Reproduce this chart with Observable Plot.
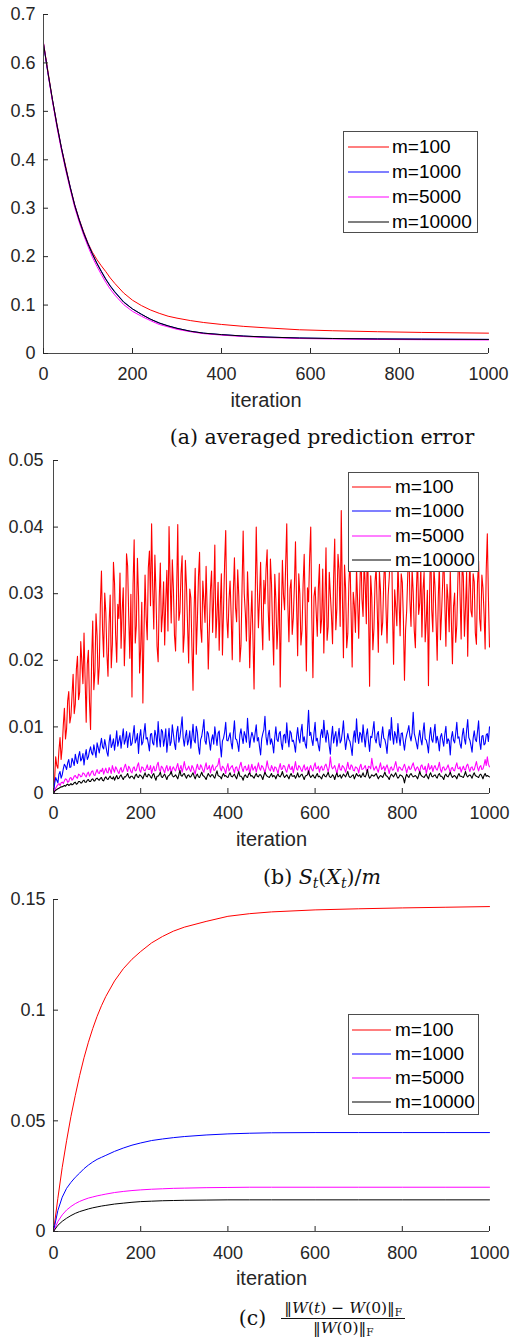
<!DOCTYPE html>
<html>
<head>
<meta charset="utf-8">
<script src="https://cdn.jsdelivr.net/npm/d3@7"></script>
<script src="https://cdn.jsdelivr.net/npm/@observablehq/plot@0.6"></script>
<style>
  body { margin: 0; background: #fff; }
  #root { position: relative; width: 512px; height: 1338px; overflow: hidden; font-family: "Liberation Sans", Arial, Helvetica, sans-serif; }
  .panel { position: absolute; left: 0; }
  .legend { position: absolute; border: 1px solid #4d4d4d; background: #fff; box-sizing: border-box; }
  .lrow { position: absolute; left: 0; right: 0; height: 24px; font-size: 19px; color: #000; }
  .cap { position: absolute; left: 132px; width: 380px; text-align: center; font-family: "DejaVu Serif", "Liberation Serif", serif; font-size: 20.5px; line-height: 24px; color: #111; white-space: nowrap; }
  .cap sub { font-size: 0.68em; vertical-align: -0.32em; line-height: 0; }
  .capc { display: flex; justify-content: center; align-items: center; height: 36px; }
  .frac { display: inline-flex; flex-direction: column; align-items: center; font-size: 15.5px; margin-left: 15px; }
  .num { line-height: 15px; padding: 0 3px 2px; border-bottom: 1px solid #111; }
  .den { line-height: 15px; padding-top: 2px; }
</style>
</head>
<body>
<div id="root"></div>
<script>
// ---------- shared ----------
const seriesNames = ["m=100", "m=1000", "m=5000", "m=10000"];
const seriesColors = ["#ff0000", "#0000ff", "#ff00ff", "#000000"];
const xTicks = [0, 200, 400, 600, 800, 1000];

// ---------- (a) averaged prediction error ----------
const iterA = [0,10,20,30,40,50,60,70,80,90,100,110,120,130,140,150,160,180,200,220,240,260,280,300,330,360,400,450,500,575,650,750,850,1000];
const errA_m100   = [0.640,0.583,0.524,0.475,0.426,0.386,0.344,0.308,0.278,0.252,0.228,0.209,0.194,0.181,0.169,0.156,0.145,0.125,0.110,0.099,0.090,0.083,0.077,0.073,0.068,0.064,0.060,0.056,0.053,0.049,0.047,0.045,0.0435,0.042];
const errA_m1000  = [0.638,0.579,0.524,0.473,0.426,0.383,0.344,0.307,0.277,0.250,0.227,0.206,0.187,0.170,0.154,0.140,0.128,0.107,0.092,0.081,0.071,0.063,0.057,0.052,0.046,0.042,0.039,0.036,0.034,0.032,0.031,0.0302,0.0298,0.0292];
const errA_m5000  = [0.642,0.578,0.521,0.468,0.421,0.378,0.339,0.302,0.272,0.245,0.221,0.199,0.180,0.163,0.147,0.133,0.121,0.101,0.087,0.077,0.068,0.060,0.055,0.050,0.045,0.041,0.038,0.035,0.033,0.031,0.030,0.029,0.0285,0.028];
const errA_m10000 = [0.640,0.580,0.525,0.472,0.425,0.382,0.343,0.306,0.276,0.249,0.226,0.205,0.186,0.169,0.153,0.139,0.127,0.106,0.092,0.081,0.071,0.063,0.057,0.052,0.046,0.042,0.039,0.036,0.034,0.032,0.031,0.030,0.0295,0.029];
const yTicksA = [0, 0.1, 0.2, 0.3, 0.4, 0.5, 0.6, 0.7];

// ---------- (b) S_t(X_t)/m  (values in units of 1e-3, every 2.5 iterations; one row = 50 iterations) ----------
const iterB = d3.range(0, 1000.1, 2.5);
const unitB = 1e-3;
const sB_m100 = [
  0,2.1,5.5,4.2,3.8,6.5,8.4,5.1,6.9,10.3,12.8,8.2,9.7,13.9,15.3,10.6,11.6,14.8,17.9,12.0,
  13.4,18.7,20.6,14.1,15.2,22.8,19.8,16.5,24.1,17.2,10.7,19.4,21.5,13.8,9.6,20.2,25.9,15.6,18.3,27.0,
  23.7,16.4,19.1,28.3,33.4,24.6,20.5,30.1,27.2,21.0,17.6,25.5,29.8,18.9,22.4,34.7,31.6,23.8,19.7,28.4,
  26.3,33.1,21.8,27.4,30.9,19.2,24.6,36.0,34.2,26.7,20.3,29.9,14.5,31.4,38.1,22.6,25.2,35.3,29.7,18.1,
  21.9,28.7,13.6,24.0,32.8,26.5,23.1,33.9,36.4,28.2,40.5,31.0,24.7,35.8,30.2,22.1,19.8,29.3,34.6,24.3,
  26.9,31.8,22.3,28.9,33.5,24.4,40.1,32.2,25.6,35.1,30.8,23.7,21.4,30.5,40.4,26.0,27.3,33.0,35.7,21.2,
  23.9,35.0,31.2,25.3,19.6,30.7,29.4,22.0,15.5,27.6,33.8,20.9,26.1,32.5,36.2,24.8,22.7,31.9,28.9,25.7,
  34.1,27.2,18.7,24.9,30.6,33.4,24.2,29.6,37.3,23.4,26.8,31.7,21.5,28.1,33.0,20.8,27.7,34.6,39.5,26.3,
  23.4,29.0,31.9,26.7,20.1,30.3,35.4,27.9,25.8,33.6,29.6,19.8,22.2,31.1,39.4,30.0,27.1,22.9,33.3,28.2,
  18.9,25.6,30.4,23.2,15.7,28.8,40.0,31.3,24.9,29.4,34.7,26.1,21.6,32.0,28.5,33.7,36.6,27.5,23.0,35.2,
  31.5,24.7,19.3,32.9,29.2,21.7,25.4,33.1,16.0,26.3,35.0,29.8,27.6,34.4,40.5,28.3,22.8,30.7,32.1,23.9,
  26.4,31.2,37.8,28.6,20.7,33.0,30.0,22.3,24.5,31.4,35.9,27.0,18.4,30.9,28.8,35.5,40.0,26.4,17.4,29.6,
  31.0,27.3,23.6,30.8,34.4,24.1,26.2,33.7,21.1,28.5,36.9,23.0,25.0,33.2,29.9,26.8,22.5,32.4,38.2,24.6,
  27.8,35.9,33.6,25.1,42.5,29.9,20.4,34.3,30.7,21.9,24.0,31.6,35.2,27.4,19.0,30.2,28.3,24.2,33.9,29.0,
  23.3,30.4,37.1,29.2,26.6,34.9,31.3,25.5,39.0,27.8,16.1,32.7,29.5,21.6,24.8,31.8,34.0,27.7,21.2,33.4,
  30.5,23.8,25.7,31.9,36.0,28.0,22.6,29.7,32.4,36.3,40.5,27.5,19.4,30.6,28.0,25.2,34.8,29.1,23.7,33.0,
  31.7,26.2,17.0,24.5,27.4,32.8,37.5,29.0,25.1,33.7,30.3,24.4,21.9,30.8,35.6,26.9,28.6,34.1,23.5,30.6,
  33.2,22.8,26.0,30.5,16.2,29.3,38.6,27.6,24.3,33.9,31.1,25.8,20.0,29.4,34.5,23.1,27.0,31.5,36.8,28.7,
  22.1,31.4,29.1,24.3,33.7,26.0,19.5,28.1,30.1,22.7,25.3,32.2,37.0,29.5,23.2,34.8,32.6,23.6,27.9,33.2,
  20.6,29.7,35.3,27.4,26.5,33.0,31.8,24.1,22.4,31.6,34.9,26.2,24.4,32.8,30.9,27.0,21.7,33.6,39.0,29.5,
  22.0];
const sB_m1000 = [
  0,1.4,2.4,2.0,1.6,2.9,3.3,2.3,2.8,3.7,4.4,4.1,3.6,4.6,5.1,3.9,4.0,5.3,4.8,4.2,
  5.9,5.0,4.5,5.6,6.3,4.9,5.2,6.0,4.3,5.7,6.6,5.1,5.5,6.4,7.0,6.1,5.8,7.3,6.4,5.4,
  7.6,6.9,6.1,7.3,8.3,7.0,6.7,8.1,7.2,6.2,5.6,7.7,8.8,6.9,7.4,8.2,6.5,7.8,9.4,7.1,
  7.9,8.7,6.8,8.3,9.7,7.4,8.0,9.3,6.9,8.4,9.1,7.2,7.5,8.8,10.2,7.6,8.1,9.0,6.0,8.5,
  9.6,7.3,7.7,9.1,10.5,8.2,8.4,7.5,6.4,8.9,9.0,7.6,7.3,9.5,8.7,7.0,10.8,8.4,7.0,9.6,
  9.3,7.1,8.2,9.7,6.2,8.0,9.8,7.2,7.8,10.3,8.9,7.5,6.6,9.2,10.1,7.7,8.5,9.9,11.5,8.3,
  7.1,8.6,9.5,7.3,8.0,9.4,6.8,8.5,10.4,8.0,7.6,10.1,9.2,7.0,5.9,8.1,8.6,9.7,11.1,7.9,
  7.4,9.3,9.0,7.8,6.5,8.1,8.8,7.4,10.0,8.6,7.2,9.1,9.4,7.2,5.5,7.9,8.3,9.2,10.7,8.0,
  7.9,8.5,9.1,7.6,6.7,9.0,10.9,8.2,8.1,7.4,6.3,8.8,9.7,8.4,7.5,9.3,8.7,7.7,11.3,8.9,
  6.9,8.3,9.2,8.6,7.7,9.1,10.3,7.9,8.4,7.0,5.8,8.2,9.0,9.6,11.6,8.5,7.3,8.8,9.5,7.4,
  8.2,7.4,6.1,8.4,10.0,8.1,7.8,9.0,9.3,7.5,6.6,8.7,8.9,7.6,10.6,8.3,7.0,9.4,9.1,7.8,
  8.0,7.3,6.2,8.5,9.9,8.2,7.6,9.3,10.4,7.8,8.5,7.4,6.8,9.6,12.5,8.7,9.2,8.0,7.2,9.1,
  10.7,7.9,8.3,7.2,6.4,8.7,9.6,8.4,11.0,8.9,7.7,9.5,8.8,7.1,5.9,8.5,10.1,7.6,8.6,9.3,
  7.1,8.4,9.8,7.6,8.0,9.2,10.9,8.3,6.6,7.9,9.0,8.1,7.8,6.9,5.7,8.3,9.4,7.7,11.2,8.6,
  7.5,9.2,8.9,7.7,10.3,8.5,7.0,8.8,9.7,7.8,6.3,8.6,8.4,9.5,10.8,8.2,7.6,8.9,9.3,7.4,
  6.9,8.6,10.0,8.3,8.1,7.3,6.0,8.4,9.6,8.0,11.4,8.8,7.4,9.3,8.7,7.6,10.5,8.5,7.2,9.0,
  9.1,7.7,6.5,8.0,8.8,9.4,10.2,8.6,7.9,9.1,12.2,9.0,8.3,7.5,6.7,8.4,9.5,8.1,7.3,9.2,
  10.6,8.2,8.0,7.3,6.1,8.6,9.9,8.1,7.7,9.2,10.4,7.6,8.6,7.8,6.4,8.5,9.0,8.0,7.1,8.9,
  10.1,7.5,8.2,7.9,5.8,8.4,9.3,8.0,7.6,9.0,10.7,8.3,8.5,7.4,6.8,8.7,9.8,8.2,7.4,9.5,
  11.1,8.4,8.0,7.2,6.2,8.3,9.4,8.1,7.8,9.3,10.9,7.7,6.6,8.6,8.7,7.3,7.5,8.8,9.0,7.8,
  10.0];
const sB_m5000 = [
  0,0.5,0.8,1.1,1.3,1.5,1.2,1.6,1.7,1.5,1.9,2.2,2.1,1.7,1.8,2.3,2.4,2.0,2.2,2.6,
  2.7,2.4,2.3,2.9,2.8,2.5,2.6,3.1,3.0,2.7,2.5,3.0,3.2,2.6,2.9,3.3,3.4,2.8,2.7,3.2,
  3.6,3.1,3.0,3.5,3.3,3.8,2.9,3.4,3.8,3.2,3.1,3.9,3.5,3.0,4.2,3.6,3.2,4.0,3.7,3.3,
  3.0,3.6,3.9,3.2,3.4,4.0,4.4,3.7,3.3,4.1,3.8,3.3,3.1,3.8,4.0,3.4,3.5,4.2,4.6,3.5,
  3.2,4.0,3.9,3.5,3.4,3.8,4.3,3.6,3.6,4.2,3.0,3.7,4.1,3.4,3.5,4.3,4.7,3.6,3.3,4.1,
  3.9,3.5,3.1,3.8,4.2,3.4,3.6,4.1,3.0,3.7,4.0,3.6,3.4,4.0,4.5,3.5,3.7,4.2,3.2,3.9,
  4.8,3.9,3.5,3.7,4.1,3.6,3.3,4.2,3.9,3.4,2.9,3.8,4.4,3.7,3.6,4.3,4.0,3.5,3.2,4.0,
  4.6,3.6,3.8,4.2,3.1,3.9,4.3,3.5,3.5,4.0,4.1,4.4,5.3,3.8,3.4,4.1,3.9,3.6,3.0,3.9,
  4.5,3.4,3.7,4.0,4.2,3.6,3.1,3.9,4.0,3.4,3.5,4.2,4.7,3.8,3.3,4.0,4.1,3.5,3.6,4.3,
  2.9,3.7,4.4,3.5,3.8,4.1,3.2,3.9,4.6,3.8,3.5,4.2,4.0,3.6,3.1,3.9,4.9,4.0,3.6,3.4,
  4.2,3.8,3.3,4.0,3.9,3.5,3.0,3.9,4.5,3.6,3.7,4.2,4.1,3.5,3.2,3.9,4.4,3.7,3.6,4.1,
  3.1,3.9,4.8,3.7,3.5,4.2,4.0,3.6,3.3,3.9,4.3,3.5,3.7,4.0,2.9,3.8,4.2,3.6,3.4,4.1,
  4.6,3.7,3.8,4.1,3.2,3.9,4.1,3.5,3.6,4.2,4.4,3.8,3.3,4.0,5.5,4.1,3.7,3.9,4.2,3.6,
  3.0,3.8,4.5,3.6,3.5,4.2,4.0,3.7,3.2,3.9,4.7,3.8,3.6,4.3,4.1,3.5,3.4,4.0,3.9,3.7,
  3.1,4.0,4.4,3.6,3.7,3.9,4.2,3.5,3.3,4.1,4.0,3.7,5.3,4.2,3.5,3.8,4.1,3.6,3.2,4.0,
  4.6,3.6,3.8,4.1,3.4,3.9,4.3,3.7,3.0,3.8,4.0,3.5,3.6,4.2,4.8,3.9,3.3,4.0,3.9,3.6,
  3.5,4.0,4.4,3.8,3.1,3.7,4.1,3.6,3.7,4.2,4.6,3.9,3.4,3.8,4.0,3.6,3.2,4.1,4.3,3.7,
  3.6,4.1,3.0,3.7,4.5,3.6,3.8,4.2,3.3,3.9,4.2,3.7,3.5,4.0,4.7,3.6,3.2,3.9,4.0,3.5,
  3.6,3.9,4.3,3.7,3.1,3.8,3.9,3.5,3.4,4.1,4.6,3.8,3.7,4.0,3.2,3.7,4.1,3.6,3.5,4.2,
  4.4,3.8,3.3,3.9,4.0,3.5,3.6,4.2,4.8,3.9,3.4,4.0,4.2,3.6,3.7,4.3,5.1,4.2,5.5,4.4,
  4.0];
const sB_m10000 = [
  0,0.3,0.5,0.6,0.7,0.8,0.9,1.0,1.0,1.1,1.2,1.1,1.3,1.4,1.2,1.3,1.5,1.3,1.4,1.6,
  1.7,1.4,1.5,1.8,1.8,1.6,1.6,1.9,2.0,1.7,1.7,2.0,2.1,1.8,1.8,2.1,2.2,1.9,1.9,2.2,
  2.3,2.1,2.0,2.3,2.4,2.0,1.9,2.3,2.5,2.2,2.1,2.4,2.6,2.3,2.2,2.5,2.0,2.4,2.7,2.2,
  2.3,2.6,2.8,2.4,2.1,2.5,2.5,2.7,3.0,2.5,2.3,2.6,2.6,2.4,2.2,2.7,2.9,2.5,2.4,2.8,
  2.7,2.5,2.2,2.7,3.1,2.6,2.5,2.9,2.8,2.5,2.3,2.8,3.0,2.4,2.0,2.6,2.6,2.8,3.2,2.5,
  2.4,2.7,2.9,2.5,2.1,2.6,2.7,2.9,3.3,2.7,2.5,2.6,2.8,2.5,2.2,2.8,3.5,2.7,2.6,2.9,
  3.0,2.6,2.3,2.7,2.8,2.5,2.5,2.8,3.1,2.6,2.2,2.7,2.9,2.5,2.4,2.8,3.2,2.7,2.6,2.4,
  2.1,2.6,3.0,2.7,2.5,2.8,2.8,2.5,2.3,2.9,3.4,2.7,2.6,2.5,2.2,2.7,3.0,2.6,2.7,2.5,
  2.4,2.8,3.1,2.6,2.5,2.7,2.9,2.5,2.2,2.8,3.3,2.6,2.6,2.4,2.0,2.6,2.8,2.5,2.4,2.9,
  3.1,2.6,2.7,2.5,2.3,2.7,3.0,2.6,2.5,2.8,2.8,2.5,2.1,2.7,3.2,2.8,2.6,2.5,2.4,2.7,
  3.0,2.5,2.7,2.6,2.2,2.7,2.9,2.6,2.5,2.8,3.3,2.7,2.4,2.6,2.8,2.5,2.2,2.7,3.0,2.6,
  2.6,2.7,2.3,2.6,3.1,2.5,2.5,2.8,2.9,2.5,2.1,2.6,2.7,2.8,3.4,2.7,2.4,2.6,2.8,2.5,
  2.3,2.7,3.0,2.5,2.6,2.4,2.2,2.7,2.9,2.6,2.5,2.8,3.2,2.6,2.4,2.5,2.8,2.6,2.1,2.7,
  3.1,2.5,2.6,2.8,2.3,2.6,2.9,2.7,2.5,2.9,3.3,2.6,2.4,2.5,2.7,2.8,2.2,2.6,3.0,2.7,
  2.6,2.8,2.4,2.7,3.1,2.6,2.5,2.9,3.6,2.7,2.3,2.5,2.8,2.7,2.6,2.8,3.0,2.6,2.2,2.5,
  2.7,2.6,2.4,2.8,3.2,2.7,2.6,2.4,2.1,2.6,2.9,2.7,2.5,2.8,3.1,2.6,2.3,2.5,2.8,2.7,
  2.6,2.3,1.6,2.4,2.9,2.6,2.4,2.8,3.0,2.7,2.5,2.6,2.7,2.5,2.2,2.7,3.3,2.8,2.6,2.5,
  2.4,2.7,2.9,2.5,2.2,2.8,3.1,2.6,2.5,2.7,2.8,2.5,2.3,2.8,3.0,2.6,2.6,2.4,2.1,2.7,
  2.9,2.6,2.5,2.8,3.2,2.7,2.4,2.6,2.7,2.5,2.2,2.7,3.0,2.6,2.6,2.5,2.4,2.8,3.3,2.7,
  2.5,2.7,2.8,2.6,2.3,2.8,3.1,2.7,2.6,2.5,2.4,2.8,2.9,2.6,2.2,2.7,3.0,2.6,2.7,2.6,
  2.5];
const yTicksB = [0, 0.01, 0.02, 0.03, 0.04, 0.05];

// ---------- (c) ||W(t)-W(0)||_F / ||W(0)||_F ----------
const iterC = [0,10,20,30,40,50,60,70,80,90,100,110,120,140,160,180,200,225,250,275,300,350,400,450,500,600,700,800,900,1000];
const wC_m100   = [0,0.0150,0.0290,0.0410,0.0520,0.0615,0.0705,0.0785,0.0855,0.0917,0.0972,0.1020,0.1062,0.1132,0.1187,0.1230,0.1265,0.1304,0.1333,0.1357,0.1375,0.1401,0.1424,0.1436,0.1444,0.1453,0.1458,0.1462,0.1465,0.1468];
const wC_m1000  = [0,0.0095,0.0155,0.0195,0.0222,0.0245,0.0264,0.0284,0.0300,0.0314,0.0326,0.0335,0.0344,0.0362,0.0377,0.0390,0.0400,0.0411,0.0418,0.0424,0.0429,0.0436,0.0441,0.0444,0.0446,0.0447,0.0447,0.0447,0.0447,0.0447];
const wC_m5000  = [0,0.0045,0.0075,0.0097,0.0113,0.0126,0.0136,0.0144,0.0151,0.0156,0.0161,0.0165,0.0169,0.0176,0.0181,0.0185,0.0188,0.0191,0.0193,0.0195,0.0196,0.0198,0.0199,0.0200,0.0200,0.0200,0.0200,0.0200,0.0200,0.0200];
const wC_m10000 = [0,0.0028,0.0046,0.0060,0.0072,0.0082,0.0090,0.0096,0.0102,0.0107,0.0111,0.0115,0.0118,0.0124,0.0128,0.0132,0.0135,0.0137,0.0139,0.0140,0.0141,0.0142,0.0143,0.0143,0.0143,0.0143,0.0143,0.0143,0.0143,0.0143];
const yTicksC = [0, 0.05, 0.1, 0.15];

// ---------- drawing ----------
const root = document.getElementById("root");
const ruleColor = "#4a4a4a";
const textColor = "#262626";
const SVGNS = "http://www.w3.org/2000/svg";

function drawPanel(cfg) {
  const rows = [];
  cfg.values.forEach((vals, k) => vals.forEach((v, i) => {
    if (i < cfg.iters.length) rows.push({iter: cfg.iters[i], value: v * cfg.unit, series: seriesNames[k]});
  }));
  const chart = Plot.plot({
    width: 512,
    height: cfg.height,
    marginTop: cfg.marginTop,
    marginBottom: cfg.marginBottom,
    marginLeft: cfg.marginLeft,
    marginRight: cfg.marginRight,
    style: {fontFamily: '"Liberation Sans", Arial, Helvetica, sans-serif', fontSize: "18px", color: textColor, background: "transparent", overflow: "visible"},
    x: {domain: [0, 1000]},
    y: {domain: cfg.yDomain},
    color: {domain: seriesNames, range: seriesColors},
    marks: [
      Plot.line(rows, {x: "iter", y: "value", z: "series", stroke: "series", strokeWidth: cfg.strokeWidth}),
      Plot.ruleX([0], {stroke: ruleColor}),
      Plot.ruleY([0], {stroke: ruleColor}),
      Plot.axisX({ticks: xTicks, tickFormat: String, tickSize: -5, tickPadding: cfg.xPad, label: null}),
      Plot.axisY({ticks: cfg.yTicks, tickFormat: String, tickSize: -5, tickPadding: cfg.yPad, label: null}),
      Plot.text(["iteration"], {text: d => d, frameAnchor: "bottom", dy: cfg.labelDy, lineAnchor: "middle", fontSize: 20, fill: textColor})
    ]
  });
  const holder = document.createElement("div");
  holder.className = "panel";
  holder.style.top = cfg.top + "px";
  holder.appendChild(chart);
  root.appendChild(holder);
}

function addLegend({left, top, width, height, rowY, lineX1, lineX2, textX}) {
  const box = document.createElement("div");
  box.className = "legend";
  Object.assign(box.style, {left: left + "px", top: top + "px", width: width + "px", height: height + "px"});
  seriesNames.forEach((name, k) => {
    const row = document.createElement("div");
    row.className = "lrow";
    row.style.top = (rowY[k] - 12) + "px";
    const svg = document.createElementNS(SVGNS, "svg");
    svg.setAttribute("width", lineX2 - lineX1);
    svg.setAttribute("height", 24);
    Object.assign(svg.style, {position: "absolute", left: lineX1 + "px", top: "0px"});
    const ln = document.createElementNS(SVGNS, "line");
    ln.setAttribute("x1", 0); ln.setAttribute("x2", lineX2 - lineX1);
    ln.setAttribute("y1", 12); ln.setAttribute("y2", 12);
    ln.setAttribute("stroke", seriesColors[k]);
    ln.setAttribute("stroke-width", 1.2);
    svg.appendChild(ln);
    const tx = document.createElement("span");
    Object.assign(tx.style, {position: "absolute", left: textX + "px", top: "0", lineHeight: "24px"});
    tx.textContent = name;
    row.append(svg, tx);
    box.append(row);
  });
  root.append(box);
}

function addCaption(top, html, extraClass) {
  const d = document.createElement("div");
  d.className = "cap" + (extraClass ? " " + extraClass : "");
  d.style.top = top + "px";
  d.innerHTML = html;
  root.append(d);
}

// (a)
drawPanel({top: 0, height: 413, marginTop: 14, marginBottom: 60, marginLeft: 43, marginRight: 24,
  iters: iterA, values: [errA_m100, errA_m1000, errA_m5000, errA_m10000], unit: 1, strokeWidth: 1,
  yDomain: [0, 0.7], yTicks: yTicksA, xPad: 18.5, yPad: 13, labelDy: 47});
addLegend({left: 343, top: 131, width: 135, height: 102, rowY: [15, 40, 65, 90], lineX1: 4, lineX2: 45, textX: 48});
addCaption(425, "(a) averaged prediction error");

// (b)
drawPanel({top: 450, height: 405, marginTop: 10, marginBottom: 62, marginLeft: 53, marginRight: 23,
  iters: iterB, values: [sB_m100, sB_m1000, sB_m5000, sB_m10000], unit: unitB, strokeWidth: 1.1,
  yDomain: [0, 0.05], yTicks: yTicksB, xPad: 17.6, yPad: 15, labelDy: 46});
addLegend({left: 348, top: 472, width: 131, height: 100, rowY: [14, 38, 63, 86.5], lineX1: 3, lineX2: 42, textX: 46});
addCaption(865, '(b) <i>S</i><sub><i>t</i></sub>(<i>X</i><sub><i>t</i></sub>)/<i>m</i>');

// (c)
drawPanel({top: 890, height: 404, marginTop: 9, marginBottom: 63, marginLeft: 53, marginRight: 23,
  iters: iterC, values: [wC_m100, wC_m1000, wC_m5000, wC_m10000], unit: 1, strokeWidth: 1,
  yDomain: [0, 0.15], yTicks: yTicksC, xPad: 19.6, yPad: 13, labelDy: 47});
addLegend({left: 348, top: 1014, width: 131, height: 101, rowY: [15, 38.5, 63, 86.5], lineX1: 3, lineX2: 42, textX: 46});
addCaption(1300,
  '<span>(c)</span><span class="frac"><span class="num">‖<i>W</i>(<i>t</i>)&nbsp;−&nbsp;<i>W</i>(0)‖<sub>F</sub></span><span class="den">‖<i>W</i>(0)‖<sub>F</sub></span></span>',
  "capc");
</script>
</body>
</html>
